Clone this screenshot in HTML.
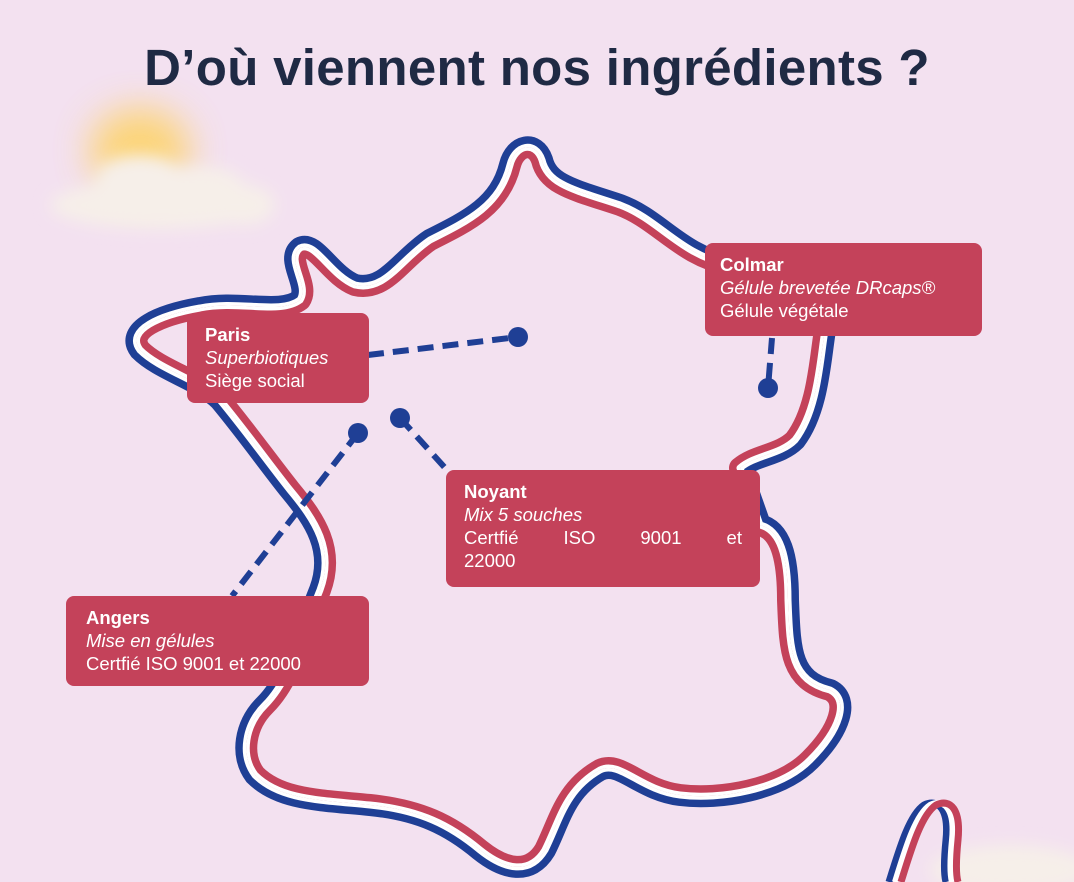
<!DOCTYPE html>
<html><head><meta charset="utf-8"><style>
html,body{margin:0;padding:0}
body{width:1074px;height:882px;overflow:hidden;background:#f3e1f0;position:relative;font-family:"Liberation Sans",sans-serif}
h1{position:absolute;top:38px;left:0;width:1074px;text-align:center;margin:0;font-size:51px;font-weight:bold;color:#1f2a44;letter-spacing:0.3px}
.box{position:absolute;background:#c4425a;color:#fff;border-radius:8px;font-size:18.5px;line-height:23px;box-sizing:border-box;padding:10px 18px}
.box i{display:block}
svg{position:absolute;left:0;top:0}
</style></head><body>
<svg width="1074" height="882" viewBox="0 0 1074 882">
<defs>
<filter id="bl" x="-50%" y="-50%" width="200%" height="200%"><feGaussianBlur stdDeviation="8"/></filter>
<filter id="bl2" x="-50%" y="-50%" width="200%" height="200%"><feGaussianBlur stdDeviation="18"/></filter>
<path id="fr" d="M200,308 C240,300 280,315 300,300 C310,285 285,260 300,248 C315,240 330,275 355,285 C385,292 400,260 430,240 C470,220 500,205 510,165 C515,145 535,140 542,160 C548,185 575,190 620,205 C660,220 680,255 730,265 C780,275 830,290 825,330 C820,360 818,410 795,440 C780,455 755,455 740,468 L760,525 C780,530 788,555 788,600 C790,650 790,680 830,690 C850,700 840,730 810,760 C780,790 720,800 680,795 C640,790 620,760 600,770 C565,790 560,820 545,850 C530,875 505,870 480,850 C450,825 420,810 370,805 C320,800 280,800 255,775 C240,755 245,725 265,705 C290,680 300,640 320,590 C335,550 315,520 290,490 C270,465 245,430 220,400 C200,380 160,370 140,350 C125,330 160,315 200,308 Z"/>
<clipPath id="inside"><use href="#fr"/></clipPath>
<mask id="outside" maskUnits="userSpaceOnUse" x="0" y="0" width="1074" height="882"><rect width="1074" height="882" fill="#fff"/><use href="#fr" fill="#000"/></mask>
<path id="co" d="M895,882 C905,850 915,815 930,805 C945,798 955,810 952,840 C950,860 950,875 952,882"/>
</defs>
<ellipse cx="140" cy="150" rx="50" ry="42" fill="#ffd050" opacity="0.75" filter="url(#bl2)"/>
<g fill="#f6efe9" filter="url(#bl)">
<ellipse cx="160" cy="205" rx="110" ry="24"/><ellipse cx="140" cy="180" rx="45" ry="25"/><ellipse cx="200" cy="188" rx="45" ry="22"/><ellipse cx="245" cy="205" rx="30" ry="20"/>
<ellipse cx="1010" cy="870" rx="80" ry="25"/>
</g>
<g fill="none" stroke-linejoin="round">
<g clip-path="url(#inside)"><use href="#fr" stroke="#c4425a" stroke-width="22"/><use href="#fr" stroke="#fff" stroke-width="7"/></g>
<g mask="url(#outside)"><use href="#fr" stroke="#1f3f95" stroke-width="22"/><use href="#fr" stroke="#fff" stroke-width="7"/></g>
<use href="#co" stroke="#1f3f95" stroke-width="7" transform="translate(-6,0)"/>
<use href="#co" stroke="#ffffff" stroke-width="6"/>
<use href="#co" stroke="#c4425a" stroke-width="7" transform="translate(6,0)"/>
</g>
<g stroke="#1f3f95" stroke-width="6" stroke-dasharray="16,9" fill="none">
<line x1="368" y1="355" x2="518" y2="337"/>
<line x1="772" y1="338" x2="768" y2="388"/>
<line x1="400" y1="418" x2="447" y2="470"/>
<line x1="358" y1="433" x2="232" y2="596"/>
</g>
<g fill="#1f3f95">
<circle cx="518" cy="337" r="10"/><circle cx="768" cy="388" r="10"/><circle cx="400" cy="418" r="10"/><circle cx="358" cy="433" r="10"/>
</g>
</svg>
<h1>D’où viennent nos ingrédients ?</h1>
<div class="box" style="left:187px;top:313px;width:182px;height:90px"><b>Paris</b><i>Superbiotiques</i>Siège social</div>
<div class="box" style="left:705px;top:243px;width:277px;height:93px;padding-left:15px"><b>Colmar</b><i>Gélule brevetée DRcaps®</i>Gélule végétale</div>
<div class="box" style="left:446px;top:470px;width:314px;height:117px"><b>Noyant</b><i>Mix 5 souches</i><div style="text-align:justify;text-align-last:justify">Certfié ISO 9001 et</div>22000</div>
<div class="box" style="left:66px;top:596px;width:303px;height:90px;padding-left:20px"><b>Angers</b><i>Mise en gélules</i>Certfié ISO 9001 et 22000</div>
</body></html>
